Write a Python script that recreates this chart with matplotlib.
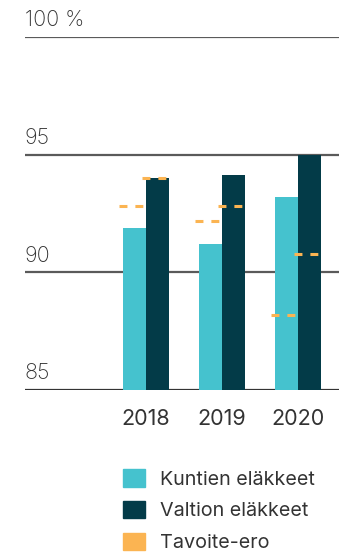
import numpy as np
import matplotlib.pyplot as plt
from matplotlib.patches import Patch

years = ['2018', '2019', '2020']
kuntien = [91.9, 91.2, 93.2]
valtion = [94.0, 94.15, 95.0]
kuntien_tavoite = [92.8, 92.2, 88.2]
valtion_tavoite = [94.0, 92.8, 90.8]
yticks = [85, 90, 95, 100]
ytick_labels = ['85', '90', '95', '100 %']

c_light = '#45c2ce'
c_dark = '#033b48'
c_orange = '#fbb452'
c_text = '#333333'

plt.rcParams['font.family'] = ['Inter', 'DejaVu Sans']

fig = plt.figure(figsize=(3.39, 5.58), dpi=100)
ax = fig.add_axes([25 / 339, 168 / 558, 314 / 339, 353 / 558])

x = np.arange(len(years))
w = 0.30
ax.bar(x - w / 2, kuntien, w, bottom=0, color=c_light, zorder=2)
ax.bar(x + w / 2, valtion, w, bottom=0, color=c_dark, zorder=2)

# target markers as short dashed lines over each bar
dw = 0.40
for xi, t1, t2 in zip(x, kuntien_tavoite, valtion_tavoite):
    ax.plot([xi - w / 2 - dw / 2, xi - w / 2 + dw / 2], [t1, t1], color=c_orange,
            lw=2.2, dashes=(2.6, 2.6), zorder=3, solid_capstyle='butt')
    ax.plot([xi + w / 2 - dw / 2, xi + w / 2 + dw / 2], [t2, t2], color=c_orange,
            lw=2.2, dashes=(2.6, 2.6), zorder=3, solid_capstyle='butt')

ax.set_ylim(85, 100)
ax.set_xlim(-1.592, 2.539)

for v, lab in zip(yticks, ytick_labels):
    ax.axhline(v, color='#333333' if v == 85 else '#5a5a5a', lw=1.6, zorder=1)
    ax.text(0, v + 0.28, lab, transform=ax.get_yaxis_transform(), ha='left', va='bottom',
            fontsize=15.5, color=c_text, fontweight='light')

for s in ax.spines.values():
    s.set_visible(False)
ax.set_yticks([])
ax.set_xticks(x)
ax.set_xticklabels(years, fontsize=15.5, color=c_text)
ax.tick_params(axis='x', length=0, pad=14)

handles = [Patch(color=c_light), Patch(color=c_dark), Patch(color=c_orange)]
labels = ['Kuntien eläkkeet', 'Valtion eläkkeet', 'Tavoite-ero']
fig.legend(handles, labels, loc='upper left', bbox_to_anchor=(123 / 339, 1 - 469 / 558),
           frameon=False, fontsize=14.2, handlelength=1.1, handleheight=1.0,
           handletextpad=0.8, labelspacing=0.62, borderpad=0, borderaxespad=0,
           labelcolor=c_text)

fig.savefig('out.png', dpi=100)
